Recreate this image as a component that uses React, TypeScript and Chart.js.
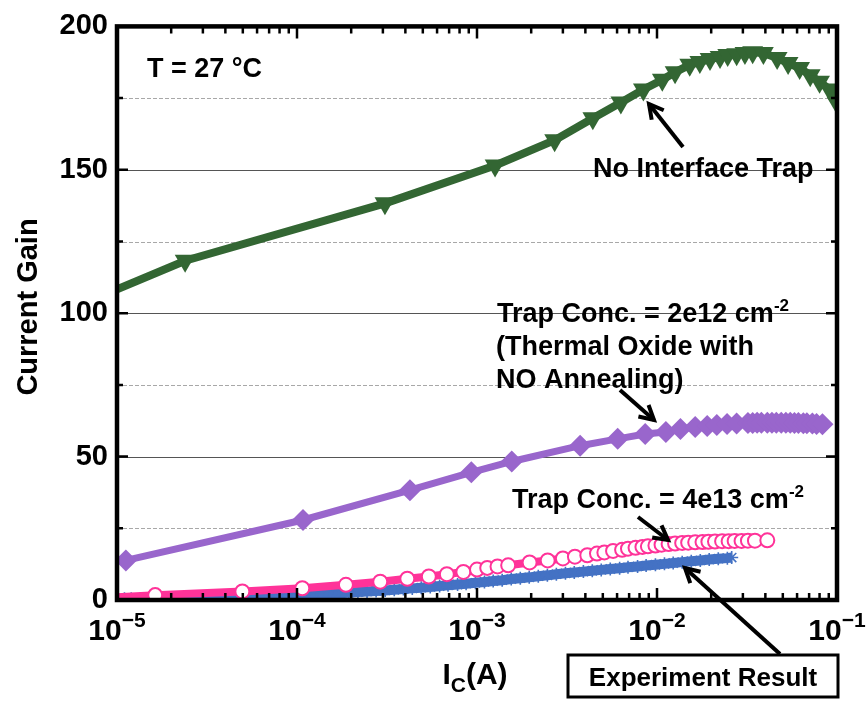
import React, { useEffect, useRef } from 'react';
import { Chart, registerables } from 'chart.js';
Chart.register(...registerables);

// ---- Data ----
const noTrapCurrent = [1e-5, 2.39e-5, 3.08e-4, 1.26e-3, 2.7e-3, 4.4e-3, 6.3e-3, 8.4e-3, 1.07e-2, 1.26e-2, 1.52e-2, 1.73e-2, 1.97e-2, 2.24e-2, 2.47e-2, 2.77e-2, 3.08e-2, 3.4e-2, 3.9e-2, 4.65e-2, 5.35e-2, 6.2e-2, 7.1e-2, 8.0e-2, 9.1e-2, 1e-1];
const noTrapGain = [108.3, 118.3, 138.3, 151.5, 160.3, 168.0, 173.5, 178.0, 181.4, 184.0, 186.6, 187.6, 188.6, 189.3, 190.0, 190.3, 190.7, 191.0, 190.7, 189.0, 187.2, 185.5, 183.0, 180.7, 178.0, 173.4];

const trap2e12Current = [1.12e-5, 1.08e-4, 4.24e-4, 9.3e-4, 1.56e-3, 3.74e-3, 6.05e-3, 8.6e-3, 1.12e-2, 1.35e-2, 1.63e-2, 1.9e-2, 2.15e-2, 2.45e-2, 2.77e-2, 3.2e-2, 3.4e-2, 3.6e-2, 3.8e-2, 4.1e-2, 4.35e-2, 4.6e-2, 4.9e-2, 5.2e-2, 5.5e-2, 5.8e-2, 6.1e-2, 6.5e-2, 6.8e-2, 7.3e-2, 7.7e-2, 8.3e-2];
const trap2e12Gain = [13.8, 27.9, 38.3, 44.5, 48.3, 53.8, 56.2, 57.9, 58.6, 59.6, 60.3, 60.7, 61.0, 61.4, 61.5, 61.7, 61.7, 61.8, 61.8, 61.8, 61.8, 61.8, 61.8, 61.8, 61.8, 61.7, 61.7, 61.6, 61.6, 61.5, 61.4, 61.3];

const trap4e13Current = [1e-5, 1.63e-5, 4.97e-5, 1.07e-4, 1.87e-4, 2.9e-4, 4.1e-4, 5.4e-4, 6.8e-4, 8.4e-4, 1.0e-3, 1.14e-3, 1.3e-3, 1.49e-3, 1.96e-3, 2.47e-3, 3.0e-3, 3.5e-3, 4.1e-3, 4.64e-3, 5.1e-3, 5.7e-3, 6.4e-3, 6.9e-3, 7.6e-3, 8.3e-3, 8.9e-3, 9.8e-3, 1.06e-2, 1.16e-2, 1.26e-2, 1.38e-2, 1.49e-2, 1.63e-2, 1.79e-2, 1.93e-2, 2.1e-2, 2.3e-2, 2.5e-2, 2.7e-2, 2.95e-2, 3.2e-2, 3.5e-2, 4.1e-2];
const trap4e13Gain = [1.0, 1.7, 3.0, 4.1, 5.3, 6.4, 7.4, 8.2, 9.0, 9.8, 10.6, 11.2, 11.7, 12.1, 13.1, 13.8, 14.5, 15.1, 15.6, 16.2, 16.6, 17.1, 17.5, 17.9, 18.2, 18.5, 18.7, 19.0, 19.3, 19.5, 19.7, 19.9, 20.0, 20.1, 20.2, 20.3, 20.4, 20.5, 20.5, 20.6, 20.6, 20.7, 20.7, 20.8];

const experimentCurrent = [1.0e-5, 1.1e-5, 1.2e-5, 1.35e-5, 1.5e-5, 1.7e-5, 1.9e-5, 2.1e-5, 2.4e-5, 2.7e-5, 3.0e-5, 3.4e-5, 3.8e-5, 4.3e-5, 4.8e-5, 5.4e-5, 6.1e-5, 6.8e-5, 7.7e-5, 8.6e-5, 9.7e-5, 1.09e-4, 1.22e-4, 1.37e-4, 1.54e-4, 1.73e-4, 1.94e-4, 2.18e-4, 2.45e-4, 2.75e-4, 3.09e-4, 3.47e-4, 3.9e-4, 4.37e-4, 4.9e-4, 5.5e-4, 6.2e-4, 6.9e-4, 7.8e-4, 8.7e-4, 9.8e-4, 1.1e-3, 1.23e-3, 1.38e-3, 1.55e-3, 1.74e-3, 1.95e-3, 2.19e-3, 2.46e-3, 2.76e-3, 3.1e-3, 3.47e-3, 3.9e-3, 4.37e-3, 4.9e-3, 5.5e-3, 6.2e-3, 6.9e-3, 7.8e-3, 8.7e-3, 9.8e-3, 1.1e-2, 1.23e-2, 1.38e-2, 1.55e-2, 1.74e-2, 1.95e-2, 2.19e-2, 2.46e-2, 2.6e-2];
const experimentGain = [0.4, 0.4, 0.45, 0.5, 0.5, 0.55, 0.6, 0.65, 0.7, 0.75, 0.8, 0.85, 0.9, 0.95, 1.0, 1.1, 1.2, 1.3, 1.4, 1.5, 1.6, 1.75, 1.9, 2.05, 2.2, 2.35, 2.55, 2.75, 2.95, 3.15, 3.35, 3.55, 3.8, 4.05, 4.3, 4.55, 4.85, 5.1, 5.4, 5.7, 6.0, 6.3, 6.6, 6.9, 7.3, 7.6, 7.9, 8.3, 8.6, 9.0, 9.3, 9.6, 9.9, 10.2, 10.5, 10.8, 11.1, 11.4, 11.7, 12.0, 12.3, 12.6, 12.9, 13.2, 13.5, 13.8, 14.1, 14.4, 14.6, 14.8];

const xDecadeExponents = [-5, -4, -3, -2, -1];
const yMajorTicks = [0, 50, 100, 150, 200];
const yMinorTicks = [25, 75, 125, 175];

const FONT = '"Liberation Sans", Arial, Helvetica, sans-serif';

function toPoints(xs: number[], ys: number[]) {
  return xs.map((x, i) => ({ x, y: ys[i] }));
}

function drawArrow(ctx: CanvasRenderingContext2D, x1: number, y1: number, x2: number, y2: number) {
  ctx.save();
  ctx.strokeStyle = '#000';
  ctx.lineWidth = 4;
  ctx.lineCap = 'butt';
  ctx.lineJoin = 'miter';
  ctx.beginPath();
  ctx.moveTo(x1, y1);
  ctx.lineTo(x2, y2);
  ctx.stroke();
  const a = Math.atan2(y2 - y1, x2 - x1);
  const L = 16, w = 0.5;
  ctx.beginPath();
  ctx.moveTo(x2 - L * Math.cos(a - w), y2 - L * Math.sin(a - w));
  ctx.lineTo(x2, y2);
  ctx.lineTo(x2 - L * Math.cos(a + w), y2 - L * Math.sin(a + w));
  ctx.stroke();
  ctx.restore();
}

function drawWithSup(ctx: CanvasRenderingContext2D, base: string, sup: string, x: number, y: number, baseSize: number, supSize: number, rise: number) {
  ctx.font = `bold ${baseSize}px ${FONT}`;
  ctx.textAlign = 'left';
  ctx.textBaseline = 'alphabetic';
  ctx.fillText(base, x, y);
  const w = ctx.measureText(base).width;
  ctx.font = `bold ${supSize}px ${FONT}`;
  ctx.fillText(sup, x + w, y - rise);
}

const gridPlugin = {
  id: 'gridPlugin',
  beforeDatasetsDraw(chart: any) {
    const { ctx, chartArea, scales } = chart;
    const y = scales.y;
    ctx.save();
    ctx.lineWidth = 1;
    for (const v of yMinorTicks) {
      const py = Math.round(y.getPixelForValue(v)) + 0.5;
      ctx.setLineDash([4, 2]);
      ctx.strokeStyle = '#a8a8a8';
      ctx.beginPath();
      ctx.moveTo(chartArea.left, py);
      ctx.lineTo(chartArea.right, py);
      ctx.stroke();
    }
    for (const v of yMajorTicks) {
      if (v === 0 || v === 200) continue;
      const py = Math.round(y.getPixelForValue(v)) + 0.5;
      ctx.setLineDash([]);
      ctx.strokeStyle = '#555';
      ctx.beginPath();
      ctx.moveTo(chartArea.left, py);
      ctx.lineTo(chartArea.right, py);
      ctx.stroke();
    }
    ctx.restore();
  },
};

const framePlugin = {
  id: 'framePlugin',
  afterDatasetsDraw(chart: any) {
    const { ctx, chartArea, scales } = chart;
    const { left, right, top, bottom } = chartArea;
    const x = scales.x, y = scales.y;
    ctx.save();
    ctx.strokeStyle = '#000';
    ctx.lineWidth = 2.5;
    ctx.beginPath();
    for (const v of yMajorTicks.concat(yMinorTicks)) {
      const py = y.getPixelForValue(v);
      const len = yMajorTicks.includes(v) ? 11 : 6;
      ctx.moveTo(left, py); ctx.lineTo(left + len, py);
      ctx.moveTo(right, py); ctx.lineTo(right - len, py);
    }
    for (const e of xDecadeExponents) {
      for (let m = 1; m <= 9; m++) {
        const val = m * Math.pow(10, e);
        if (val > 0.1 + 1e-12) continue;
        const px = x.getPixelForValue(val);
        const len = m === 1 ? 12 : 7;
        ctx.moveTo(px, bottom); ctx.lineTo(px, bottom - len);
        ctx.moveTo(px, top); ctx.lineTo(px, top + len);
      }
    }
    ctx.stroke();
    ctx.lineWidth = 4.5;
    ctx.strokeRect(left, top, right - left, bottom - top);
    ctx.restore();
  },
};

const labelPlugin = {
  id: 'labelPlugin',
  afterDraw(chart: any) {
    const { ctx, scales } = chart;
    const x = scales.x;
    ctx.save();
    ctx.fillStyle = '#000';
    for (const e of xDecadeExponents) {
      const px = x.getPixelForValue(Math.pow(10, e));
      ctx.font = `bold 30px ${FONT}`;
      const w1 = ctx.measureText('10').width;
      ctx.font = `bold 21px ${FONT}`;
      const sup = '\u2212' + String(-e);
      const w2 = ctx.measureText(sup).width;
      const start = px - (w1 + w2) / 2;
      ctx.textAlign = 'left';
      ctx.textBaseline = 'alphabetic';
      ctx.font = `bold 30px ${FONT}`;
      ctx.fillText('10', start, 640);
      ctx.font = `bold 21px ${FONT}`;
      ctx.fillText(sup, start + w1, 627);
    }
    {
      ctx.font = `bold 30px ${FONT}`;
      const wI = ctx.measureText('I').width;
      const wA = ctx.measureText('(A)').width;
      ctx.font = `bold 21px ${FONT}`;
      const wC = ctx.measureText('C').width;
      const total = wI + wC + wA;
      const s = 475 - total / 2;
      ctx.textAlign = 'left';
      ctx.font = `bold 30px ${FONT}`;
      ctx.fillText('I', s, 684);
      ctx.font = `bold 21px ${FONT}`;
      ctx.fillText('C', s + wI, 692);
      ctx.font = `bold 30px ${FONT}`;
      ctx.fillText('(A)', s + wI + wC, 684);
    }
    ctx.save();
    ctx.translate(37, 307);
    ctx.rotate(-Math.PI / 2);
    ctx.font = `bold 29px ${FONT}`;
    ctx.textAlign = 'center';
    ctx.textBaseline = 'alphabetic';
    ctx.fillText('Current Gain', 0, 0);
    ctx.restore();

    ctx.font = `bold 27px ${FONT}`;
    ctx.textAlign = 'left';
    ctx.textBaseline = 'alphabetic';
    ctx.fillText('T = 27 \u00B0C', 147, 77);
    ctx.fillText('No Interface Trap', 593, 177);
    drawArrow(ctx, 683, 147, 649, 104);

    drawWithSup(ctx, 'Trap Conc. = 2e12 cm', '-2', 497, 322, 27, 17, 11);
    ctx.font = `bold 27px ${FONT}`;
    ctx.fillText('(Thermal Oxide with', 496, 355);
    ctx.fillText('NO Annealing)', 496, 388);
    drawArrow(ctx, 620, 390, 654, 420);

    drawWithSup(ctx, 'Trap Conc. = 4e13 cm', '-2', 512, 508, 27, 17, 11);
    drawArrow(ctx, 638, 517, 668, 540);

    ctx.save();
    ctx.fillStyle = '#fff';
    ctx.fillRect(568, 655, 270, 42);
    ctx.strokeStyle = '#000';
    ctx.lineWidth = 3;
    ctx.strokeRect(568, 655, 270, 42);
    ctx.restore();
    ctx.fillStyle = '#000';
    ctx.font = `bold 26px ${FONT}`;
    ctx.textAlign = 'center';
    ctx.fillText('Experiment Result', 703, 686);
    drawArrow(ctx, 780, 654, 685, 568);
    ctx.restore();
  },
};

export default function App() {
  const ref = useRef<HTMLCanvasElement>(null);
  useEffect(() => {
    document.body.style.margin = '0';
    const canvas = ref.current;
    if (!canvas) return;
    const chart = new Chart(canvas, {
      type: 'line',
      data: {
        datasets: [
          {
            label: 'Trap Conc. = 4e13 cm-2',
            data: toPoints(trap4e13Current, trap4e13Gain),
            borderColor: '#FF3399',
            backgroundColor: '#FFFFFF',
            borderWidth: 8,
            pointStyle: 'circle',
            pointRadius: (c: any) => (c.dataIndex === 0 ? 0 : 7),
            pointBorderWidth: 2,
            pointBorderColor: '#FF3399',
            pointBackgroundColor: '#FFFFFF',
            order: 0,
          },
          {
            label: 'Experiment Result',
            data: toPoints(experimentCurrent, experimentGain),
            borderColor: '#4472C4',
            backgroundColor: '#4472C4',
            borderWidth: 10,
            pointStyle: 'star',
            pointRadius: 6.5,
            pointBorderWidth: 1.6,
            pointBorderColor: '#4472C4',
            order: 1,
          },
          {
            label: 'Trap Conc. = 2e12 cm-2',
            data: toPoints(trap2e12Current, trap2e12Gain),
            borderColor: '#9966CC',
            backgroundColor: '#9966CC',
            borderWidth: 7,
            pointStyle: 'rectRot',
            pointRadius: 11,
            pointBorderWidth: 0,
            pointBackgroundColor: '#9966CC',
            order: 2,
          },
          {
            label: 'No Interface Trap',
            data: toPoints(noTrapCurrent, noTrapGain),
            borderColor: '#336633',
            backgroundColor: '#336633',
            borderWidth: 8,
            pointStyle: 'triangle',
            pointRotation: 180,
            pointRadius: (c: any) => (c.dataIndex === 0 ? 0 : 12),
            pointBorderWidth: 0,
            pointBackgroundColor: '#336633',
            order: 3,
          },
        ],
      },
      options: {
        responsive: false,
        animation: false,
        devicePixelRatio: 1,
        layout: { padding: { left: 0, right: 30, top: 23, bottom: 0 } },
        plugins: { legend: { display: false }, tooltip: { enabled: false } },
        scales: {
          x: {
            type: 'logarithmic',
            min: 1e-5,
            max: 1e-1,
            grid: { display: false, drawTicks: false },
            border: { display: false },
            ticks: { display: false },
            afterFit: (s: any) => { s.height = 102; },
          },
          y: {
            type: 'linear',
            min: 0,
            max: 200,
            grid: { display: false, drawTicks: false },
            border: { display: false },
            ticks: {
              stepSize: 50,
              padding: 9,
              color: '#000',
              font: { family: FONT, size: 29, weight: 'bold' },
            },
            afterFit: (s: any) => { s.width = 117; },
          },
        },
      },
      plugins: [gridPlugin, framePlugin, labelPlugin],
    } as any);
    return () => chart.destroy();
  }, []);
  return (
    <div style={{ width: 867, height: 702 }}>
      <canvas ref={ref} width={867} height={702} style={{ display: 'block' }} />
    </div>
  );
}
